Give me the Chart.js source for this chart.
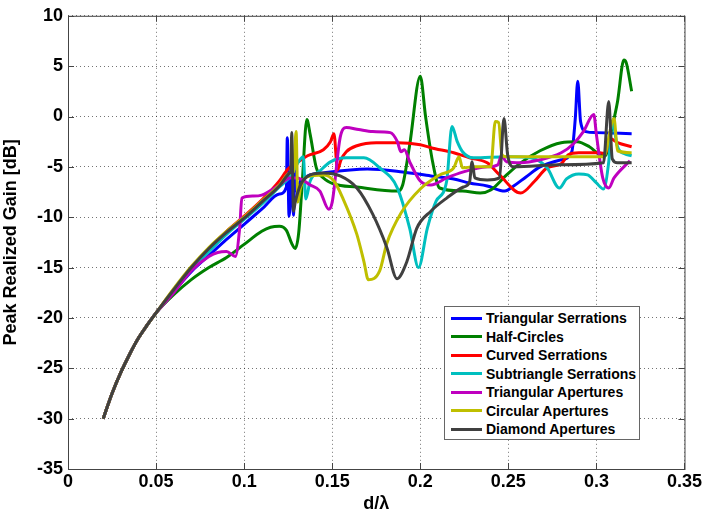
<!DOCTYPE html>
<html>
<head>
<meta charset="utf-8">
<script src="https://cdn.jsdelivr.net/npm/chart.js@4.4.1/dist/chart.umd.min.js"></script>
<style>
  body { margin: 0; background: #fff; }
  #wrap { position: relative; width: 704px; height: 515px; }
  #legend {
    position: absolute; left: 444px; top: 306px; width: 194px; height: 130px;
    border: 1px solid #666; background: #fff; box-sizing: content-box;
    font: bold 14px "Liberation Sans", Arial, sans-serif; color: #000;
    padding-top: 2px;
  }
  #legend div { height: 18.5px; line-height: 18.5px; white-space: nowrap; }
  #legend span.ln { display: inline-block; width: 31px; height: 3px; margin: 0 4px 0 6px; vertical-align: middle; position: relative; top: -1px; }
</style>
</head>
<body>
<div id="wrap">
  <canvas id="grafico" width="704" height="515"></canvas>
  <div id="legend"></div>
</div>
<script>
// shared start, all curves overlap here
var trunkX = [0.02, 0.025, 0.03, 0.035, 0.04, 0.045, 0.05];
var trunkY = [-30, -27.5, -25.4, -23.6, -22.0, -20.7, -19.5];

var triSerrX = [0.06, 0.07, 0.08, 0.09, 0.1, 0.11, 0.12, 0.124, 0.1245, 0.1255, 0.127, 0.128, 0.129, 0.13, 0.132, 0.145, 0.17, 0.19, 0.206, 0.219, 0.228, 0.238, 0.248, 0.253, 0.26, 0.268, 0.28, 0.286, 0.288, 0.2894, 0.291, 0.294, 0.3, 0.32];
var triSerrY = [-17.4, -15.4, -13.8, -12.2, -10.7, -9.2, -7.7, -7.0, -2.1, -9.9, -6.0, -9.8, -4.0, -7.5, -6.4, -5.6, -5.2, -5.5, -5.9, -6.2, -6.6, -6.9, -7.4, -6.9, -6.0, -5.0, -4.3, -3.5, -0.2, 3.5, -0.5, -1.5, -1.6, -1.7];

var halfCircX = [0.06, 0.07, 0.08, 0.09, 0.1, 0.11, 0.115, 0.12, 0.124, 0.127, 0.129, 0.131, 0.133, 0.1356, 0.1375, 0.141, 0.145, 0.151, 0.164, 0.187, 0.19, 0.194, 0.2, 0.203, 0.207, 0.211, 0.224, 0.234, 0.24, 0.249, 0.257, 0.268, 0.28, 0.289, 0.296, 0.302, 0.305, 0.309, 0.312, 0.3156, 0.317, 0.32];
var halfCircY = [-17.7, -16.2, -15.0, -14.0, -12.7, -11.4, -11.0, -10.9, -11.3, -12.6, -13.1, -11.5, -6.5, -0.3, -1.8, -5.1, -6.1, -6.7, -7.0, -7.4, -6.8, -2.8, 4.0, 0.0, -4.5, -7.1, -7.4, -7.6, -7.3, -5.8, -4.6, -3.4, -2.6, -2.5, -3.0, -3.8, -3.9, -1.0, 1.5, 5.6, 5.3, 2.5];

var curvSerrX = [0.06, 0.07, 0.08, 0.09, 0.1, 0.11, 0.12, 0.125, 0.13, 0.136, 0.145, 0.149, 0.151, 0.153, 0.155, 0.158, 0.164, 0.175, 0.187, 0.2, 0.206, 0.219, 0.228, 0.238, 0.245, 0.257, 0.265, 0.272, 0.28, 0.284, 0.29, 0.302, 0.305, 0.308, 0.312, 0.32];
var curvSerrY = [-17.2, -15.0, -13.1, -11.4, -9.9, -8.3, -6.4, -5.2, -4.6, -3.9, -3.3, -2.5, -1.7, -5.3, -4.3, -3.5, -2.9, -2.6, -2.6, -2.8, -3.1, -3.6, -4.1, -4.6, -5.8, -7.6, -6.4, -5.1, -4.7, -3.8, -3.6, -3.6, -3.7, -2.2, -2.6, -3.0];

var subTriX = [0.06, 0.07, 0.08, 0.09, 0.1, 0.11, 0.12, 0.126, 0.128, 0.1336, 0.135, 0.1375, 0.143, 0.149, 0.158, 0.168, 0.177, 0.187, 0.194, 0.199, 0.204, 0.209, 0.215, 0.218, 0.221, 0.224, 0.23, 0.25, 0.2625, 0.272, 0.279, 0.283, 0.29, 0.295, 0.3, 0.304, 0.307, 0.309, 0.312, 0.316, 0.32];
var subTriY = [-17.3, -15.2, -13.4, -11.7, -10.2, -8.7, -7.0, -6.0, -5.4, -4.0, -8.2, -6.4, -5.4, -4.5, -4.1, -4.1, -5.1, -7.1, -11.1, -15.0, -11.1, -8.4, -6.4, -1.0, -2.5, -3.5, -4.1, -4.0, -4.1, -5.1, -7.1, -6.2, -5.7, -5.8, -6.6, -7.2, -4.5, -0.5, -3.0, -3.7, -3.9];

var triApX = [0.06, 0.07, 0.08, 0.085, 0.09, 0.095, 0.0975, 0.0987, 0.105, 0.11, 0.12, 0.126, 0.13, 0.1375, 0.143, 0.148, 0.15, 0.1545, 0.158, 0.165, 0.173, 0.183, 0.187, 0.189, 0.191, 0.194, 0.2, 0.206, 0.215, 0.2245, 0.238, 0.244, 0.246, 0.249, 0.257, 0.268, 0.28, 0.287, 0.2926, 0.2985, 0.3, 0.3036, 0.307, 0.31, 0.319];
var triApY = [-17.5, -15.3, -13.9, -13.5, -13.4, -13.9, -11.0, -8.1, -7.9, -7.8, -6.8, -6.1, -6.1, -6.8, -7.4, -9.2, -8.5, -2.1, -1.1, -1.3, -1.5, -1.6, -2.5, -3.5, -3.3, -4.5, -6.4, -6.8, -6.1, -5.5, -5.0, -4.8, -3.9, -4.5, -4.6, -4.3, -3.6, -2.7, -1.5, 0.2, -1.8, -6.1, -7.1, -6.1, -4.4];

var circApX = [0.06, 0.07, 0.08, 0.09, 0.1, 0.11, 0.12, 0.126, 0.128, 0.1295, 0.1305, 0.132, 0.1356, 0.145, 0.151, 0.156, 0.164, 0.168, 0.1705, 0.177, 0.181, 0.189, 0.2, 0.211, 0.219, 0.222, 0.224, 0.23, 0.24, 0.2426, 0.2445, 0.2464, 0.249, 0.27, 0.304, 0.31, 0.312, 0.32];
var circApY = [-17.1, -14.9, -13.0, -11.4, -10.0, -8.4, -6.8, -5.6, -5.5, -1.5, -8.5, -7.1, -6.0, -5.8, -6.4, -8.1, -11.7, -14.4, -16.2, -15.3, -12.6, -9.6, -7.2, -5.8, -5.1, -4.0, -5.1, -5.0, -5.0, -0.5, -0.6, -3.8, -4.0, -4.0, -4.0, -0.2, -3.4, -3.6];

var diamApX = [0.06, 0.07, 0.08, 0.09, 0.1, 0.11, 0.12, 0.126, 0.1265, 0.127, 0.128, 0.129, 0.132, 0.1375, 0.145, 0.1545, 0.164, 0.173, 0.181, 0.1868, 0.1924, 0.198, 0.206, 0.215, 0.2245, 0.228, 0.2294, 0.231, 0.238, 0.245, 0.2475, 0.2496, 0.253, 0.28, 0.304, 0.307, 0.309, 0.312, 0.32];
var diamApY = [-17.2, -15.0, -13.1, -11.5, -10.1, -8.5, -6.9, -5.6, -5.4, -1.6, -9.4, -8.5, -6.8, -5.8, -5.6, -5.9, -7.1, -9.7, -13.0, -16.1, -14.4, -11.1, -9.4, -8.1, -7.0, -6.5, -4.5, -6.1, -6.3, -6.1, -0.2, -3.8, -5.0, -4.8, -4.6, 1.5, -4.2, -4.6, -4.6];

var seriesNames = ['Triangular Serrations', 'Half-Circles', 'Curved Serrations', 'Subtriangle Serrations', 'Triangular Apertures', 'Circular Apertures', 'Diamond Apertures'];
var seriesColors = ['#0000FF', '#008000', '#FF0000', '#00BFBF', '#BF00BF', '#BFBF00', '#404040'];
var xTicks = [0, 0.05, 0.1, 0.15, 0.2, 0.25, 0.3, 0.35];
var yTicks = [-35, -30, -25, -20, -15, -10, -5, 0, 5, 10];

var allX = [triSerrX, halfCircX, curvSerrX, subTriX, triApX, circApX, diamApX];
var allY = [triSerrY, halfCircY, curvSerrY, subTriY, triApY, circApY, diamApY];

function puntos(xs, ys) {
    var xx = trunkX.concat(xs), yy = trunkY.concat(ys);
    return xx.map(function (x, i) { return { x: x, y: yy[i] }; });
}

var datasets = seriesNames.map(function (nombre, i) {
    return {
        label: nombre,
        data: puntos(allX[i], allY[i]),
        borderColor: seriesColors[i],
        borderWidth: 3,
        pointRadius: 0,
        showLine: true,
        fill: false,
        cubicInterpolationMode: 'monotone',
        order: seriesNames.length - i
    };
});

var fuente = { family: '"Liberation Sans", Arial, sans-serif', weight: 'bold', size: 18 };

// MATLAB style box with inward ticks
var marco = {
    id: 'marco',
    afterDraw: function (chart) {
        var ctx = chart.ctx, a = chart.chartArea;
        var sx = chart.scales.x, sy = chart.scales.y;
        ctx.save();
        ctx.strokeStyle = '#444';
        ctx.lineWidth = 1;
        ctx.strokeRect(a.left + 0.5, a.top + 0.5, a.right - a.left, a.bottom - a.top);
        ctx.beginPath();
        xTicks.forEach(function (v) {
            var p = Math.round(sx.getPixelForValue(v)) + 0.5;
            ctx.moveTo(p, a.bottom); ctx.lineTo(p, a.bottom - 6);
            ctx.moveTo(p, a.top); ctx.lineTo(p, a.top + 6);
        });
        yTicks.forEach(function (v) {
            var p = Math.round(sy.getPixelForValue(v)) + 0.5;
            ctx.moveTo(a.left, p); ctx.lineTo(a.left + 6, p);
            ctx.moveTo(a.right, p); ctx.lineTo(a.right - 6, p);
        });
        ctx.stroke();
        ctx.restore();
    }
};

new Chart('grafico', {
    type: 'scatter',
    data: { datasets: datasets },
    plugins: [marco],
    options: {
        responsive: false,
        animation: false,
        layout: { padding: { top: 14, right: 19, left: 0, bottom: 0 } },
        plugins: { legend: { display: false }, tooltip: { enabled: false } },
        scales: {
            x: {
                type: 'linear', min: 0, max: 0.35,
                afterBuildTicks: function (s) { s.ticks = xTicks.map(function (v) { return { value: v }; }); },
                afterFit: function (s) { s.height = 46; },
                ticks: {
                    color: '#000', font: fuente, padding: 2, maxRotation: 0,
                    callback: function (v) { return String(Math.round(v * 100) / 100); }
                },
                grid: { color: 'rgba(0,0,0,0.55)', drawTicks: false, lineWidth: 1 },
                border: { display: false, dash: [1, 3] },
                title: { display: true, text: 'd/\u03bb', color: '#000', font: fuente, padding: { top: 0, bottom: 0 } }
            },
            y: {
                type: 'linear', min: -35, max: 10,
                afterBuildTicks: function (s) { s.ticks = yTicks.map(function (v) { return { value: v }; }); },
                afterFit: function (s) { s.width = 68; },
                ticks: { color: '#000', font: fuente, padding: 5 },
                grid: { color: 'rgba(0,0,0,0.55)', drawTicks: false, lineWidth: 1 },
                border: { display: false, dash: [1, 3] },
                title: { display: true, text: 'Peak Realized Gain [dB]', color: '#000', font: fuente, padding: { top: 0, bottom: 2 } }
            }
        }
    }
});

var leyenda = document.getElementById('legend');
seriesNames.forEach(function (nombre, i) {
    var fila = document.createElement('div');
    fila.innerHTML = '<span class="ln" style="background:' + seriesColors[i] + '"></span>' + nombre;
    leyenda.appendChild(fila);
});
</script>
</body>
</html>
